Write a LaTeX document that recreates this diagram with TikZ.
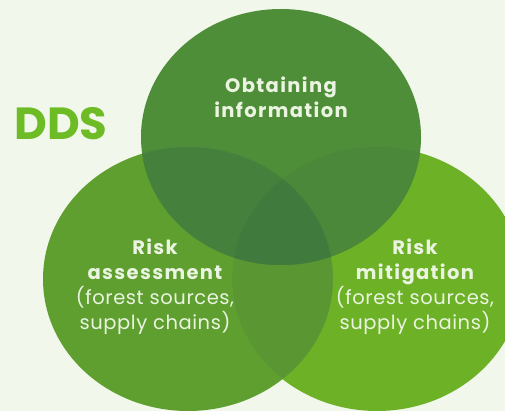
\documentclass[tikz,border=0pt]{standalone}
\usepackage{fontspec}
\setmainfont{Poppins}
\newfontfamily\headfont[LetterSpace=7]{Poppins}
\newfontfamily\bodyfont[LetterSpace=3]{Poppins}
\usetikzlibrary{positioning}
\definecolor{bgpale}{HTML}{F1F7EA}
\definecolor{topgreen}{HTML}{4F8E39}
\definecolor{leftgreen}{HTML}{5E9F2F}
\definecolor{rightgreen}{HTML}{6DB127}
\definecolor{topleft}{HTML}{45803C}
\definecolor{topright}{HTML}{4B8839}
\definecolor{leftright}{HTML}{5A9732}
\definecolor{allthree}{HTML}{407B3D}
\definecolor{textpale}{HTML}{EAF4E0}
\definecolor{ddsgreen}{HTML}{6DBB25}

\newcommand{\topdisc}{(topc) ellipse [x radius=140pt, y radius=128pt]}
\newcommand{\leftdisc}{(leftc) ellipse [x radius=145pt, y radius=132pt]}
\newcommand{\rightdisc}{(rightc) ellipse [x radius=145pt, y radius=132pt]}
\newcommand{\hd}[1]{{\headfont\bfseries #1}}

\begin{document}
\begin{tikzpicture}[
	x=1pt,y=-1pt,
	circtext/.style={text=textpale,align=center,font=\fontsize{19.5}{25}\bodyfont},
	ddsnode/.style={text=ddsgreen,font=\fontsize{45}{45}\selectfont\bfseries}
	]
	\fill[bgpale] (0,0) rectangle (505,411);
	\useasboundingbox (0,0) rectangle (505,411);
	\coordinate (topc) at (281,137);
	\coordinate (leftc) at (188,279);
	\coordinate (rightc) at (377,279);
	% the three sets
	\fill[leftgreen] \leftdisc;
	\fill[rightgreen] \rightdisc;
	\fill[topgreen] \topdisc;
	% overlaps
	\begin{scope}
		\clip \leftdisc;
		\fill[leftright] \rightdisc;
		\fill[topleft] \topdisc;
	\end{scope}
	\begin{scope}
		\clip \rightdisc;
		\fill[topright] \topdisc;
	\end{scope}
	\begin{scope}
		\clip \leftdisc;
		\clip \rightdisc;
		\fill[allthree] \topdisc;
	\end{scope}
	% labels
	\node[circtext] (obtaining) at (281,97) {\hd{Obtaining}\\\hd{information}};
	\node[circtext] (assessment) at (155,287) {\hd{Risk}\\\hd{assessment}\\(forest sources,\\supply chains)};
	\node[circtext] (mitigation) at (415,287) {\hd{Risk}\\\hd{mitigation}\\(forest sources,\\supply chains)};
	\node[ddsnode] (dds) at (61,124) {DDS};
\end{tikzpicture}
\end{document}
